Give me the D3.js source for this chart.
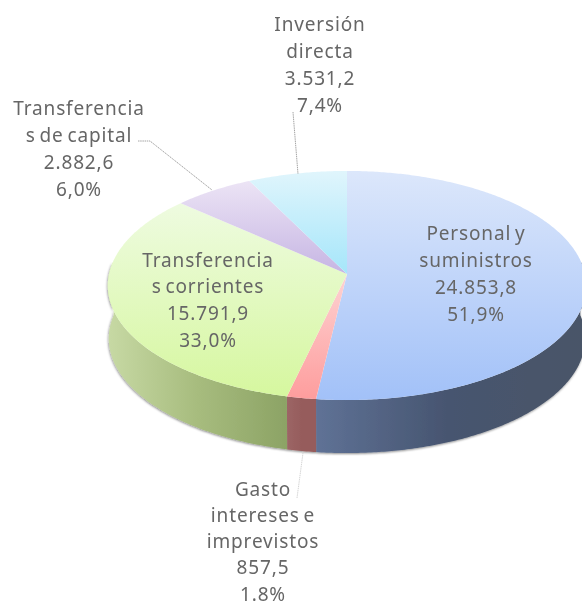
<!DOCTYPE html>
<html>
<head>
<meta charset="utf-8">
<script src="https://cdnjs.cloudflare.com/ajax/libs/d3/7.8.5/d3.min.js"></script>
<style>
	html, body { margin: 0; padding: 0; background: #fff; overflow: hidden; }
	svg { filter: blur(0.35px); }
	text { font-family: "Noto Sans", sans-serif; font-size: 19px; letter-spacing: 0.85px; word-spacing: -2px; fill: #666; text-anchor: middle; }
</style>
</head>
<body>
<div id="chart"></div>
<script>
	var width = 582,
		height = 606;

	//Chart values, clockwise from 12 o'clock
	var categories = ["Personal y suministros", "Gasto intereses e imprevistos", "Transferencias corrientes", "Transferencias de capital", "Inversión directa"];
	var values = [24853.8, 857.5, 15791.9, 2882.6, 3531.2];
	var valueLabels = ["24.853,8", "857,5", "15.791,9", "2.882,6", "3.531,2"];
	var percentLabels = ["51,9%", "1.8%", "33,0%", "6,0%", "7,4%"];
	var nameLines = [["Personal y", "suministros"], ["Gasto", "intereses e", "imprevistos"], ["Transferencia", "s corrientes"], ["Transferencia", "s de capital"], ["Inversión", "directa"]];

	var topColors = [["#dce7fb", "#a2c1f8"], ["#fdd3d3", "#fe9d9d"], ["#eefbe0", "#d6f79f"], ["#ece4f5", "#c6b5e3"], ["#e0f5fc", "#a5e6fa"]];
	var wallColors = [["#5f7296", "#46546f", "#4a5568"], ["#9c6666", "#965c5c", "#965c5c"], ["#c7d9a4", "#a7bc7e", "#8ca365"], ["#9c90b0", "#9c90b0", "#9c90b0"], ["#80b0c0", "#80b0c0", "#80b0c0"]];

	//Where the labels sit: centre x, y of the first line
	var labelX = [476, 263, 208, 79, 320];
	var labelY = [233, 489.5, 260, 108, 24];
	var lineStep = [27, 26.1, 26.7, 27, 27];

	var leaders = [
		[[293, 112], [298, 174]],
		[[138, 141], [150, 141], [212, 190]],
		[[297, 498], [303, 453]]
	];
	var leaderColors = ["#9a9a9a", "#9a9a9a", "#d0d0d0"];

	var svg = d3.select("#chart").append("svg")
		.attr("width", width)
		.attr("height", height)
		.style("display", "block");

	var defs = svg.append("defs");

	///////////////////////////////////////////////////////////////////////////
	//////////////////////////// Perspective disc /////////////////////////////
	///////////////////////////////////////////////////////////////////////////

	var cx = 347,
		cy = 274,
		radiusX = 238,
		radiusY = 113.4,
		tilt = 0.1004,
		depth = 53,
		baseShrink = 0.996;

	function project(angle) {
		var u = Math.sin(angle),
			v = -Math.cos(angle),
			w = 1 - tilt * v;
		return [cx + radiusX * u / w, cy + radiusY * v / w];
	}

	function projectBase(angle) {
		var p = project(angle);
		return [cx + (p[0] - cx) * baseShrink, p[1] + depth];
	}

	function sample(a0, a1) {
		var n = Math.max(2, Math.ceil(Math.abs(a1 - a0) / 0.01));
		return d3.range(n + 1).map(function(i) { return a0 + (a1 - a0) * i / n; });
	}

	var line = d3.line();

	var pie = d3.pie().sort(null).value(function(d) { return d; });
	var slices = pie(values);

	//Only this part of the rim faces the viewer
	var rimStart = 84 * Math.PI / 180,
		rimEnd = 276 * Math.PI / 180;

	slices.forEach(function(d, i) {
		var top = defs.append("linearGradient")
			.attr("id", "top-" + i)
			.attr("x1", 0).attr("y1", 0).attr("x2", 0).attr("y2", 1);
		top.append("stop").attr("offset", "0%").attr("stop-color", topColors[i][0]);
		top.append("stop").attr("offset", "100%").attr("stop-color", topColors[i][1]);

		var wall = defs.append("linearGradient")
			.attr("id", "wall-" + i)
			.attr("x1", 0).attr("y1", 0).attr("x2", 1).attr("y2", 0);
		wall.append("stop").attr("offset", "0%").attr("stop-color", wallColors[i][0]);
		wall.append("stop").attr("offset", "50%").attr("stop-color", wallColors[i][1]);
		wall.append("stop").attr("offset", "100%").attr("stop-color", wallColors[i][2]);
	});

	var shadow = defs.append("filter")
		.attr("id", "pie-shadow")
		.attr("x", "-5%").attr("y", "-5%").attr("width", "110%").attr("height", "115%");
	shadow.append("feDropShadow")
		.attr("dx", -0.5).attr("dy", 1)
		.attr("stdDeviation", 1.2)
		.attr("flood-color", "#000")
		.attr("flood-opacity", 0.45);

	//Rim first, with the shadow only under it, then the top faces over it
	var wallGroup = svg.append("g").attr("filter", "url(#pie-shadow)");

	wallGroup.selectAll(".wall")
		.data(slices.filter(function(d) { return d.endAngle > rimStart && d.startAngle < rimEnd; }))
		.enter().append("path")
		.attr("class", "wall")
		.attr("fill", function(d) { return "url(#wall-" + d.index + ")"; })
		.attr("d", function(d) {
			var a0 = Math.max(d.startAngle, rimStart),
				a1 = Math.min(d.endAngle, rimEnd);
			var front = sample(a0, a1).map(project),
				back = sample(a1, a0).map(projectBase);
			return line(front.concat(back)) + "Z";
		});

	svg.append("g").selectAll(".slice")
		.data(slices)
		.enter().append("path")
		.attr("class", "slice")
		.attr("fill", function(d) { return "url(#top-" + d.index + ")"; })
		.attr("d", function(d) {
			return line([[cx, cy]].concat(sample(d.startAngle, d.endAngle).map(project))) + "Z";
		});

	///////////////////////////////////////////////////////////////////////////
	////////////////////////////// Leader lines ///////////////////////////////
	///////////////////////////////////////////////////////////////////////////

	svg.selectAll(".leader")
		.data(leaders)
		.enter().append("path")
		.attr("class", "leader")
		.attr("fill", "none")
		.attr("stroke", function(d, i) { return leaderColors[i]; })
		.attr("stroke-width", 0.9)
		.attr("stroke-dasharray", "1.5 0.7")
		.attr("d", line);

	///////////////////////////////////////////////////////////////////////////
	///////////////////////////////// Labels //////////////////////////////////
	///////////////////////////////////////////////////////////////////////////

	var labels = svg.selectAll(".label")
		.data(categories)
		.enter().append("text")
		.attr("class", "label");

	labels.each(function(d, i) {
		var rows = nameLines[i].concat([valueLabels[i], percentLabels[i]]);
		d3.select(this).selectAll("tspan")
			.data(rows)
			.enter().append("tspan")
			.attr("x", labelX[i])
			.attr("y", function(r, j) { return labelY[i] + j * lineStep[i]; })
			.attr("dy", "0.35em")
			.text(function(r) { return r; });
	});
</script>
</body>
</html>
